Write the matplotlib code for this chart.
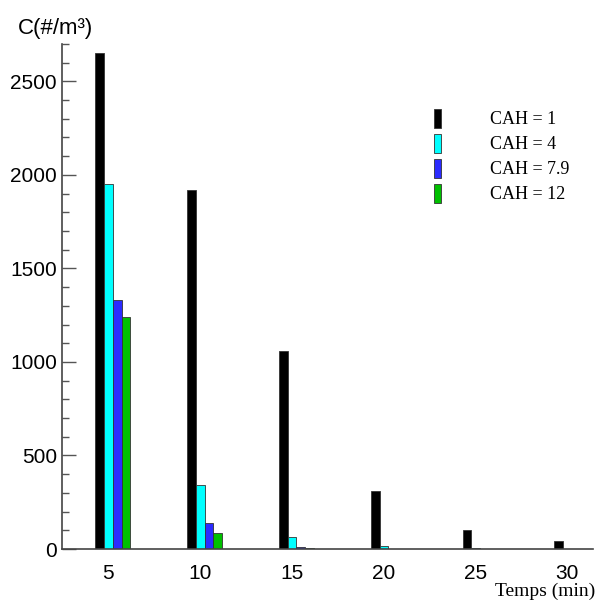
import matplotlib
matplotlib.use('Agg')
import matplotlib.pyplot as plt
from matplotlib.ticker import MultipleLocator
import numpy as np

# concentration vs time for each CAH value
temps = [5, 10, 15, 20, 25, 30]
cah_labels = ['CAH = 1', 'CAH = 4', 'CAH = 7.9', 'CAH = 12']
c_cah1 = [2650, 1920, 1060, 310, 100, 45]
c_cah4 = [1950, 340, 65, 18, 5, 2]
c_cah79 = [1330, 140, 10, 2, 1, 1]
c_cah12 = [1240, 85, 8, 2, 1, 1]
colors = ['#000000', '#00ffff', '#2b2bff', '#00c000']

series = [c_cah1, c_cah4, c_cah79, c_cah12]

fig = plt.figure(figsize=(5.96, 6.02), dpi=100)
ax = fig.add_axes([0.104, 0.088, 0.891, 0.839])

x = np.array(temps, dtype=float)
w = 0.48
offsets = [-0.46, 0.02, 0.50, 0.98]
for vals, off, clr, lab in zip(series, offsets, colors, cah_labels):
    ax.bar(x + off, vals, width=w, color=clr, edgecolor='#333333', linewidth=0.6, label=lab)

ax.set_xlim(2.5, 31.4)
ax.set_ylim(0, 2700)
ax.set_xticks(temps)
ax.yaxis.set_major_locator(MultipleLocator(500))
ax.yaxis.set_minor_locator(MultipleLocator(100))
ax.tick_params(axis='y', which='major', direction='in', length=10, width=1, color='#555555')
ax.tick_params(axis='y', which='minor', direction='in', length=5, width=1, color='#555555')
ax.tick_params(axis='x', length=0, pad=11)
for lbl in ax.get_xticklabels() + ax.get_yticklabels():
    lbl.set_fontfamily('Liberation Sans')
    lbl.set_fontsize(15)
ax.spines['top'].set_visible(False)
ax.spines['right'].set_visible(False)
for s in ['left', 'bottom']:
    ax.spines[s].set_color('#444444')
    ax.spines[s].set_linewidth(1.2)

leg = ax.legend(loc='upper left', bbox_to_anchor=(0.687, 0.886), frameon=False,
                handlelength=0.39, handleheight=1.25, handletextpad=2.7,
                labelspacing=0.3, borderaxespad=0,
                prop={'family': 'Liberation Serif', 'size': 13})

fig.text(0.03, 0.952, 'C(#/m³)', fontfamily='Liberation Sans', fontsize=16, va='center', ha='left')
fig.text(0.998, 0.017, 'Temps (min)', fontfamily='Liberation Serif', fontsize=14, va='center', ha='right')

fig.savefig('out.png', dpi=100)
